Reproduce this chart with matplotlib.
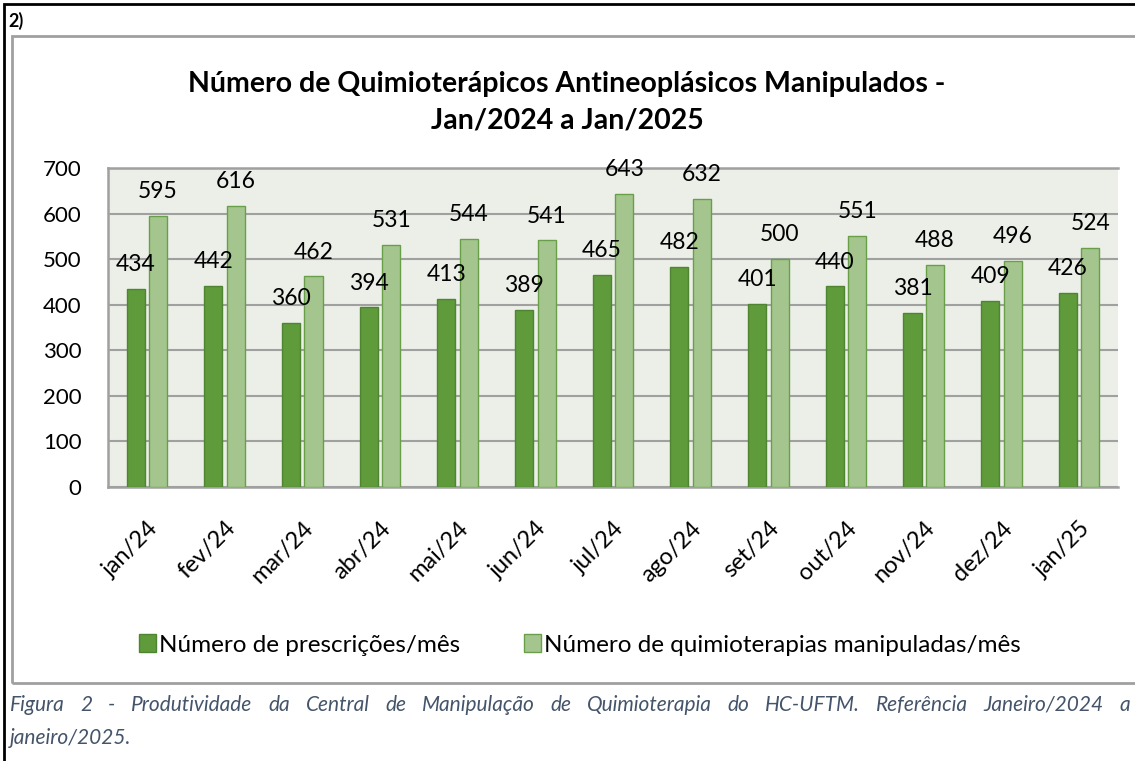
import matplotlib
matplotlib.use('Agg')
import matplotlib.pyplot as plt
from matplotlib.patches import Rectangle, Patch
import numpy as np

months = ['jan/24', 'fev/24', 'mar/24', 'abr/24', 'mai/24', 'jun/24', 'jul/24',
          'ago/24', 'set/24', 'out/24', 'nov/24', 'dez/24', 'jan/25']
prescricoes = [434, 442, 360, 394, 413, 389, 465, 482, 401, 440, 381, 409, 426]
quimioterapias = [595, 616, 462, 531, 544, 541, 643, 632, 500, 551, 488, 496, 524]
yticks = [0, 100, 200, 300, 400, 500, 600, 700]

plt.rcParams['font.family'] = ['Lato', 'DejaVu Sans']

DARK = '#5F9A3B'
DARK_EDGE = '#4F8531'
LIGHT = '#A4C68E'
LIGHT_EDGE = '#6A9F4A'
GRID = '#A0A0A0'

W, H = 1135, 761
fig = plt.figure(figsize=(W / 100, H / 100), dpi=100)

# frames: outer black box and gray chart box (both run off the right edge)
fig.patches.append(Rectangle((4 / W, -0.1), 1.2, (H - 4) / H + 0.1, transform=fig.transFigure,
                             fill=False, edgecolor='black', linewidth=2))
fig.patches.append(Rectangle((12 / W, 1 - 683 / H), 1.2, (683 - 36) / H, transform=fig.transFigure,
                             fill=False, edgecolor=GRID, linewidth=2))
fig.text(8 / W, 1 - 21 / H, '2)', fontsize=13, fontweight='bold', va='center', ha='left')

ax = fig.add_axes([108 / W, 1 - 487 / H, (1118 - 108) / W, (487 - 168) / H])
ax.set_facecolor('#EBEFE8')

x = np.arange(len(months))
bw = 0.232
off = 0.145
ax.bar(x - off, prescricoes, bw, color=DARK, edgecolor=DARK_EDGE, linewidth=1, zorder=3)
ax.bar(x + off, quimioterapias, bw, color=LIGHT, edgecolor=LIGHT_EDGE, linewidth=1, zorder=3)

for xi, v in zip(x, prescricoes):
    ax.annotate(str(v), (xi - off, v), xytext=(0, 10), textcoords='offset points',
                ha='center', va='bottom', fontsize=16.5, zorder=4)
for xi, v in zip(x, quimioterapias):
    ax.annotate(str(v), (xi + off, v), xytext=(0, 10), textcoords='offset points',
                ha='center', va='bottom', fontsize=16.5, zorder=4)

ax.set_xlim(-0.5, len(months) - 0.5)
ax.set_ylim(0, 700)
ax.set_yticks(yticks)
ax.set_yticklabels([str(t) for t in yticks], fontsize=16)
ax.yaxis.grid(True, color=GRID, linewidth=1.5, zorder=1)
ax.set_axisbelow(True)
ax.tick_params(axis='y', length=0, pad=19)
ax.tick_params(axis='x', length=0, pad=22)
ax.set_xticks(x)
ax.set_xticklabels(months, rotation=45, ha='right', va='top', rotation_mode='anchor', fontsize=17)
for s in ['left', 'top', 'bottom']:
    ax.spines[s].set_color(GRID)
    ax.spines[s].set_linewidth(1.8)
ax.spines['right'].set_visible(False)

fig.text(567 / W, 1 - 84 / H, 'Número de Quimioterápicos Antineoplásicos Manipulados -',
         fontsize=20.5, fontweight='bold', ha='center', va='center')
fig.text(567 / W, 1 - 121 / H, 'Jan/2024 a Jan/2025',
         fontsize=20.5, fontweight='bold', ha='center', va='center')

handles = [Patch(facecolor=DARK, edgecolor=DARK_EDGE), Patch(facecolor=LIGHT, edgecolor=LIGHT_EDGE)]
fig.legend(handles, ['Número de prescrições/mês', 'Número de quimioterapias manipuladas/mês'],
           loc='center', bbox_to_anchor=(580 / W, 1 - 645 / H), ncol=2, frameon=False,
           fontsize=17.5, handlelength=0.7, handleheight=0.7, handletextpad=0.15, columnspacing=2.6)

# caption, first line justified across the box
CAP = '#44546A'
cap_words = 'Figura 2 - Produtividade da Central de Manipulação de Quimioterapia do HC-UFTM. Referência Janeiro/2024 a'.split(' ')
x0, x1 = 10, 1130
renderer = fig.canvas.get_renderer()
texts = [fig.text(0, 1 - 705 / H, w, fontsize=15, style='italic', color=CAP, ha='left', va='center')
         for w in cap_words]
widths = [t.get_window_extent(renderer).width for t in texts]
gap = (x1 - x0 - sum(widths)) / (len(cap_words) - 1)
pos = x0
for t, wd in zip(texts, widths):
    t.set_x(pos / W)
    pos += wd + gap
fig.text(10 / W, 1 - 738 / H, 'janeiro/2025.',
         fontsize=15, style='italic', color=CAP, ha='left', va='center')

fig.savefig('out.png', dpi=100)
